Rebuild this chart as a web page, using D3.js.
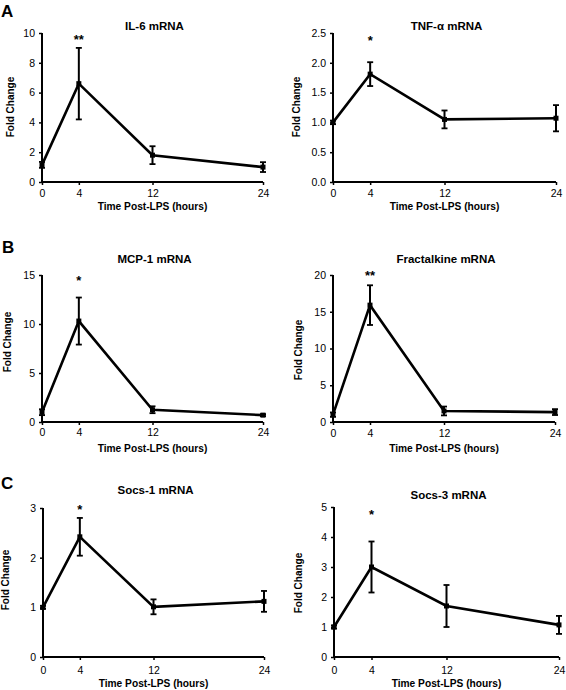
<!DOCTYPE html>
<html>
<head>
<meta charset="utf-8">
<script src="https://cdn.jsdelivr.net/npm/d3@7"></script>
<style>
  html, body { margin: 0; padding: 0; background: #fff; }
  svg { display: block; }
  text { font-family: "Liberation Sans", Arial, Helvetica, sans-serif; fill: #000; }
</style>
</head>
<body>
<svg id="chart" width="566" height="690"></svg>
<script>
// ---- data ----
const timePoints = [0, 4, 12, 24];
const xTickLabels = ["0", "4", "12", "24"];
const xAxisTitle = "Time Post-LPS (hours)";
const yAxisTitle = "Fold Change";

const il6Mean = [1.15, 6.6, 1.8, 1.0];
const il6Err  = [0.2, 2.4, 0.6, 0.33];
const il6Ticks = [0, 2, 4, 6, 8, 10];

const tnfMean = [1.0, 1.81, 1.05, 1.07];
const tnfErr  = [0.03, 0.2, 0.15, 0.22];
const tnfTicks = [0, 0.5, 1.0, 1.5, 2.0, 2.5];

const mcp1Mean = [1.0, 10.3, 1.25, 0.7];
const mcp1Err  = [0.3, 2.4, 0.35, 0.1];
const mcp1Ticks = [0, 5, 10, 15];

const fktMean = [1.0, 15.9, 1.5, 1.35];
const fktErr  = [0.3, 2.7, 0.6, 0.4];
const fktTicks = [0, 5, 10, 15, 20];

const socs1Mean = [1.0, 2.42, 1.01, 1.12];
const socs1Err  = [0.03, 0.38, 0.15, 0.21];
const socs1Ticks = [0, 1, 2, 3];

const socs3Mean = [1.0, 3.0, 1.7, 1.07];
const socs3Err  = [0.05, 0.85, 0.7, 0.3];
const socs3Ticks = [0, 1, 2, 3, 4, 5];

const titles = ["IL-6 mRNA", "TNF-\u03b1 mRNA", "MCP-1 mRNA", "Fractalkine mRNA", "Socs-1 mRNA", "Socs-3 mRNA"];
const stars = ["**", "*", "*", "**", "*", "*"];
const panelLetters = ["A", "B", "C"];
const tickFormats = ["d", ".1f", "d", "d", "d", "d"];

// ---- layout (pixel geometry) ----
const layouts = [
  {x0: 42,  x1: 263, yT: 33,  yB: 182, titleY: 30,  starY: 38,  tickY: 197, xtY: 210, ytX: 14,  ytY: 107},
  {x0: 333, x1: 556, yT: 33,  yB: 182, titleY: 30,  starY: 39,  tickY: 197, xtY: 210, ytX: 300, ytY: 107},
  {x0: 42,  x1: 263, yT: 275, yB: 422, titleY: 263, starY: 279, tickY: 436, xtY: 452, ytX: 11,  ytY: 342},
  {x0: 333, x1: 555, yT: 275, yB: 422, titleY: 263, starY: 274, tickY: 437, xtY: 452, ytX: 302, ytY: 350},
  {x0: 43,  x1: 264, yT: 508, yB: 657, titleY: 494, starY: 508, tickY: 674, xtY: 687, ytX: 9,   ytY: 580},
  {x0: 334, x1: 559, yT: 507, yB: 657, titleY: 499, starY: 513, tickY: 674, xtY: 687, ytX: 302, ytY: 583}
];
const letterPos = [{x: 1, y: 17}, {x: 2, y: 253}, {x: 1, y: 489}];

const panels = [
  {mean: il6Mean, err: il6Err, ticks: il6Ticks},
  {mean: tnfMean, err: tnfErr, ticks: tnfTicks},
  {mean: mcp1Mean, err: mcp1Err, ticks: mcp1Ticks},
  {mean: fktMean, err: fktErr, ticks: fktTicks},
  {mean: socs1Mean, err: socs1Err, ticks: socs1Ticks},
  {mean: socs3Mean, err: socs3Err, ticks: socs3Ticks}
];

const svg = d3.select("#chart");

panelLetters.forEach((L, i) => {
  svg.append("text").attr("x", letterPos[i].x).attr("y", letterPos[i].y)
    .attr("font-size", 17).attr("font-weight", "bold").text(L);
});

panels.forEach((p, i) => {
  const lay = layouts[i];
  const x = d3.scaleLinear().domain([0, 24]).range([lay.x0, lay.x1]);
  const yMax = p.ticks[p.ticks.length - 1];
  const y = d3.scaleLinear().domain([0, yMax]).range([lay.yB, lay.yT]);
  const g = svg.append("g");

  // y axis
  const yAxis = d3.axisLeft(y).tickValues(p.ticks).tickSize(3).tickPadding(4)
    .tickFormat(d3.format(tickFormats[i]));
  const ya = g.append("g").attr("transform", `translate(${lay.x0},0)`).call(yAxis);
  ya.select(".domain").attr("stroke-width", 2).attr("d", `M0,${lay.yB + 1}V${lay.yT}`);
  ya.selectAll(".tick line").attr("stroke-width", 1.5);
  ya.selectAll(".tick text").attr("font-size", 10.5).attr("font-family", "Liberation Sans, Arial, sans-serif");

  // x axis
  const xAxis = d3.axisBottom(x).tickValues(timePoints).tickSize(3).tickPadding(2)
    .tickFormat((d, k) => xTickLabels[k]);
  const xa = g.append("g").attr("transform", `translate(0,${lay.yB})`).call(xAxis);
  xa.select(".domain").attr("stroke-width", 2).attr("d", `M${lay.x0 - 1},0H${lay.x1}`);
  xa.selectAll(".tick line").attr("stroke-width", 1.5);
  xa.selectAll(".tick text").attr("font-size", 10.5).attr("font-family", "Liberation Sans, Arial, sans-serif")
    .attr("dy", null).attr("y", lay.tickY - lay.yB);

  // line
  const pts = timePoints.map((t, k) => ({t, m: p.mean[k], e: p.err[k]}));
  g.append("path").datum(pts)
    .attr("fill", "none").attr("stroke", "#000").attr("stroke-width", 2.6)
    .attr("stroke-linejoin", "miter")
    .attr("d", d3.line().x(d => x(d.t)).y(d => y(d.m)));

  // error bars
  const eb = g.selectAll(".eb").data(pts).enter().append("g");
  eb.append("line").attr("x1", d => x(d.t)).attr("x2", d => x(d.t))
    .attr("y1", d => y(d.m - d.e)).attr("y2", d => y(d.m + d.e))
    .attr("stroke", "#000").attr("stroke-width", 2);
  [1, -1].forEach(s => {
    eb.append("line").attr("x1", d => x(d.t) - 3).attr("x2", d => x(d.t) + 3)
      .attr("y1", d => y(d.m + s * d.e)).attr("y2", d => y(d.m + s * d.e))
      .attr("stroke", "#000").attr("stroke-width", 1.8);
  });
  // markers
  g.selectAll(".mk").data(pts).enter().append("rect")
    .attr("x", d => x(d.t) - 2.5).attr("y", d => y(d.m) - 2.5)
    .attr("width", 5).attr("height", 5).attr("fill", "#000");

  // star
  g.append("text").attr("x", x(4)).attr("y", lay.starY + 6).attr("text-anchor", "middle")
    .attr("font-size", 13).attr("font-weight", "bold").text(stars[i]);

  // title
  g.append("text").attr("x", (lay.x0 + lay.x1) / 2 + 2).attr("y", lay.titleY)
    .attr("text-anchor", "middle").attr("font-size", 11.5).attr("font-weight", "bold").text(titles[i]);

  // axis titles
  g.append("text").attr("x", (lay.x0 + lay.x1) / 2).attr("y", lay.xtY)
    .attr("text-anchor", "middle").attr("font-size", 10.2).attr("font-weight", "bold").text(xAxisTitle);
  g.append("text").attr("transform", `translate(${lay.ytX},${lay.ytY}) rotate(-90)`)
    .attr("text-anchor", "middle").attr("font-size", 10).attr("font-weight", "bold").text(yAxisTitle);
});
</script>
</body>
</html>
